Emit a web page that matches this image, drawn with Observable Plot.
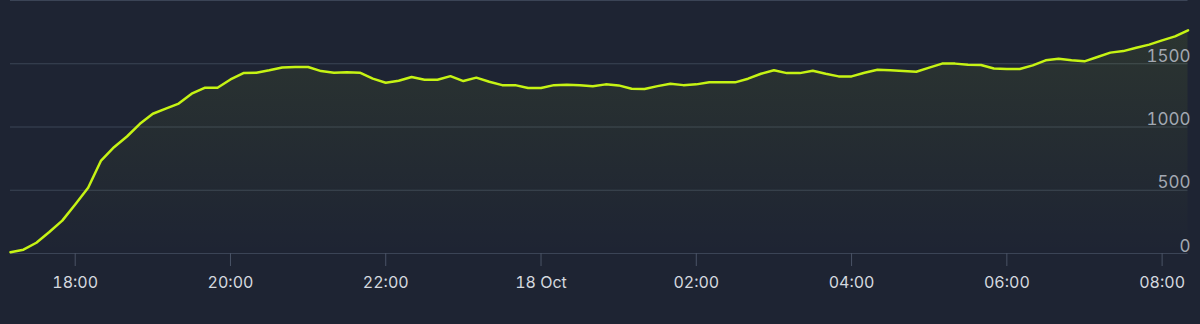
<!DOCTYPE html>
<html><head><meta charset="utf-8">
<script src="https://cdn.jsdelivr.net/npm/d3@7"></script>
<script src="https://cdn.jsdelivr.net/npm/@observablehq/plot@0.6"></script>
<style>
html,body{margin:0;padding:0;background:#1e2433;}
#chart{width:1200px;height:324px;overflow:hidden}
</style></head><body><div id="chart"></div>
<script>
const startTime = "2023-10-17T17:10:00Z";
const stepMinutes = 10;
const values = [
  10, 30, 85, 170, 260, 388, 520, 735, 840, 925,
  1025, 1105, 1145, 1185, 1263, 1310, 1310, 1376, 1426, 1429,
  1448, 1471, 1474, 1474, 1442, 1429, 1432, 1429, 1382, 1350,
  1366, 1395, 1374, 1374, 1402, 1363, 1390, 1358, 1331, 1331,
  1308, 1308, 1331, 1334, 1331, 1323, 1337, 1329, 1303, 1300,
  1323, 1342, 1331, 1337, 1353, 1353, 1353, 1382, 1421, 1448,
  1426, 1426, 1445, 1421, 1400, 1400, 1429, 1453, 1448, 1442,
  1437, 1469, 1501, 1501, 1493, 1490, 1463, 1458, 1458, 1487,
  1527, 1540, 1527, 1519, 1553, 1588, 1600, 1627, 1651, 1685,
  1716, 1764
];
const yGrid = [0, 500, 1000, 1500, 2000];
const yTickLabels = [0, 500, 1000, 1500];
const xTicks = [
  "2023-10-17T18:00:00Z", "2023-10-17T20:00:00Z", "2023-10-17T22:00:00Z",
  "2023-10-18T00:00:00Z", "2023-10-18T02:00:00Z", "2023-10-18T04:00:00Z",
  "2023-10-18T06:00:00Z", "2023-10-18T08:00:00Z"
];

const t0 = Date.parse(startTime);
const data = values.map((v, i) => ({t: new Date(t0 + i * stepMinutes * 60000), v}));
const fmt = d => d.getUTCHours() === 0 && d.getUTCMinutes() === 0
  ? d3.utcFormat("%-d %b")(d) : d3.utcFormat("%H:%M")(d);

const plot = Plot.plot({
  width: 1200, height: 324,
  marginLeft: 10, marginRight: 12.5, marginTop: 0, marginBottom: 71,
  style: {background: "#1e2433", fontFamily: "Inter, 'Noto Sans', sans-serif", fontSize: "16px"},
  x: {type: "utc", domain: [data[0].t, data[data.length - 1].t], label: null},
  y: {domain: [0, 2000], label: null},
  marks: [
    Plot.gridY(yGrid, {stroke: "#3b4456", strokeOpacity: 1, strokeWidth: 1}),
    Plot.areaY(data, {x: "t", y: "v", fill: "url(#areaGrad)"}),
    Plot.lineY(data, {x: "t", y: "v", stroke: "#c6f314", strokeWidth: 2.5}),
    Plot.axisX(xTicks.map(s => new Date(s)), {
      tickSize: 13, tickPadding: 10, stroke: "#4a5366", strokeOpacity: 1,
      fill: "#d4d8df", tickFormat: fmt, label: null
    }),
    Plot.axisY(yTickLabels, {
      anchor: "right", tickSize: 0, tickPadding: 0, textAnchor: "end",
      dx: 2.5, dy: -2, lineAnchor: "bottom", fill: "#a3a8b2",
      tickFormat: d => String(d), label: null, fontSize: 17
    })
  ]
});

const svg = d3.select(plot);
const grad = svg.insert("defs", ":first-child").append("linearGradient")
  .attr("id", "areaGrad").attr("gradientUnits", "userSpaceOnUse")
  .attr("x1", 0).attr("y1", 0).attr("x2", 0).attr("y2", 253);
grad.append("stop").attr("offset", "0%").attr("stop-color", "#c6f314").attr("stop-opacity", 0.09);
grad.append("stop").attr("offset", "100%").attr("stop-color", "#c6f314").attr("stop-opacity", 0.0);

document.getElementById("chart").appendChild(plot);
</script></body></html>
